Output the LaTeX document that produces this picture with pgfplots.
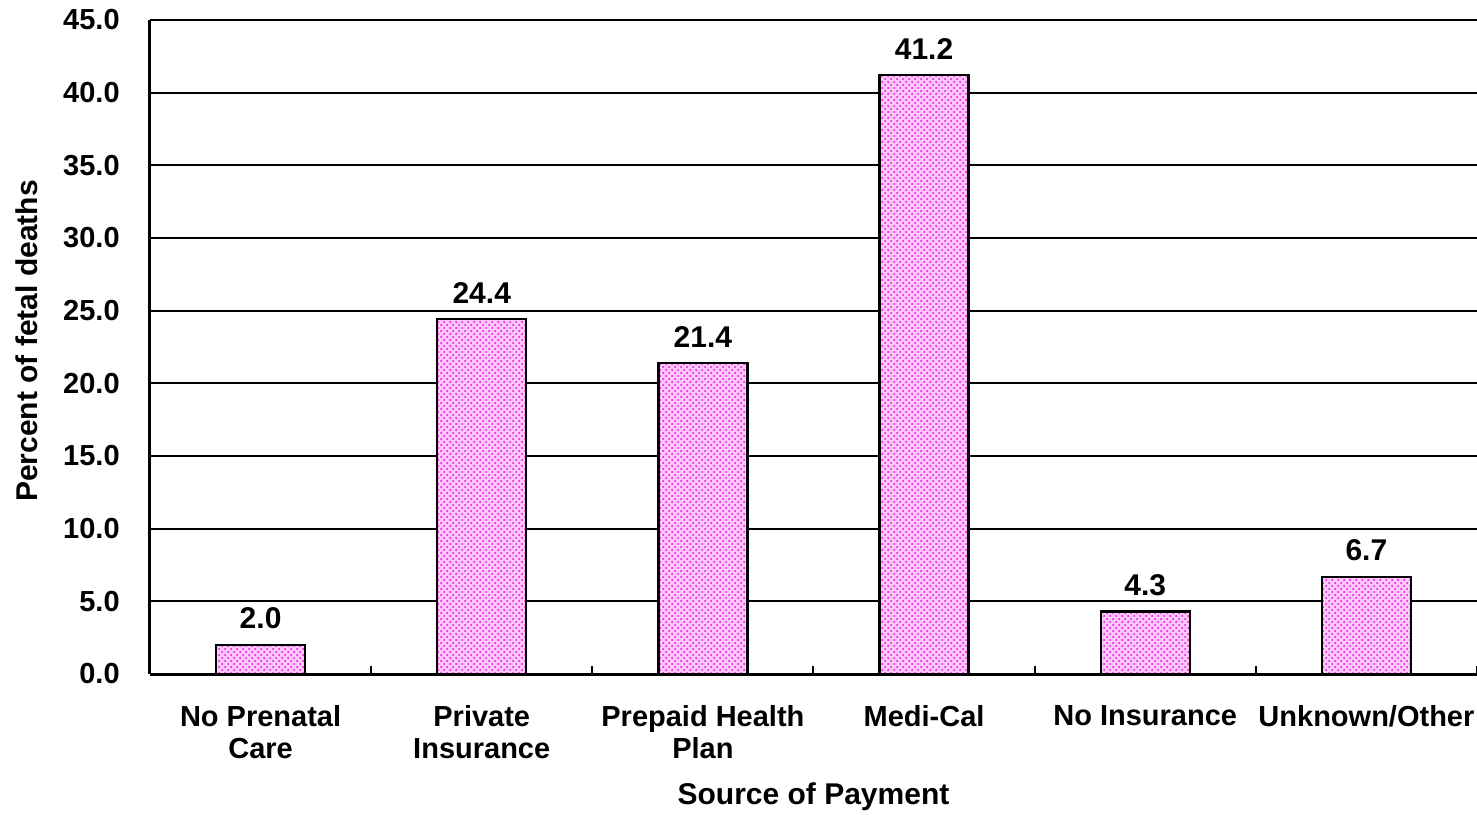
\documentclass[border=0pt]{standalone}
\usepackage{pgfplots}
\pgfplotsset{compat=1.18}
\usetikzlibrary{patterns}
\usepackage{fontspec}
\setmainfont{Liberation Sans}
\definecolor{barpink}{RGB}{255,200,250}
\definecolor{dotmag}{RGB}{240,0,230}
\begin{document}
\begin{tikzpicture}
\useasboundingbox (-75pt,-70pt) rectangle (663.5pt,337pt);
\begin{axis}[
  at={(0,0)}, anchor=south west,
  scale only axis, width=663.5pt, height=327pt,
  font=\fontsize{14.5}{16}\selectfont\bfseries,
  /pgf/number format/assume math mode=true,
  xmin=-0.5, xmax=5.5, ymin=0, ymax=45,
  ytick={0,5,...,45},
  yticklabel style={/pgf/number format/fixed, /pgf/number format/fixed zerofill, /pgf/number format/precision=1, xshift=-9.5pt},
  ymajorgrids, grid style={black, line width=1pt},
  ytick style={draw=none},
  axis x line=bottom, axis y line=left,
  axis line style={line width=1.5pt, -},
  xtick={0,1,2,3,4,5},
  xticklabels={No Prenatal\\Care, Private\\Insurance, Prepaid Health\\Plan, Medi-Cal, No Insurance, Unknown/Other},
  xticklabel style={align=center, anchor=north, yshift=-8pt, text depth=0pt},
  xtick style={draw=none},
  extra x ticks={-0.5,0,0.5,1,1.5,2,2.5,3,3.5,4,4.5,5,5.5},
  extra x tick labels={},
  extra x tick style={tick align=inside, major tick length=4pt, xtick style={draw=black, line width=1pt}, grid=none},
  every axis x label/.style={at={(rel axis cs:0.5,0)}, yshift=-61.5pt, anchor=center, font=\fontsize{15}{16}\selectfont\bfseries},
  every axis y label/.style={at={(rel axis cs:0,0.5)}, xshift=-61.5pt, yshift=3pt, rotate=90, anchor=center, font=\fontsize{15}{16}\selectfont\bfseries},
  xlabel={Source of Payment},
  ylabel={Percent of fetal deaths},
  ybar, bar width=44.5pt,
  nodes near coords,
  nodes near coords style={/pgf/number format/fixed, /pgf/number format/fixed zerofill, /pgf/number format/precision=1, yshift=4pt, font=\fontsize{15}{16}\selectfont\bfseries},
  clip=false,
  axis on top=false,
]
\addplot[draw=black, line width=1.1pt, fill=barpink, postaction={pattern=crosshatch dots, pattern color=dotmag}] coordinates {
(0,2.0) (1,24.4) (2,21.4) (3,41.2) (4,4.3) (5,6.7)};
\end{axis}
\end{tikzpicture}
\end{document}
